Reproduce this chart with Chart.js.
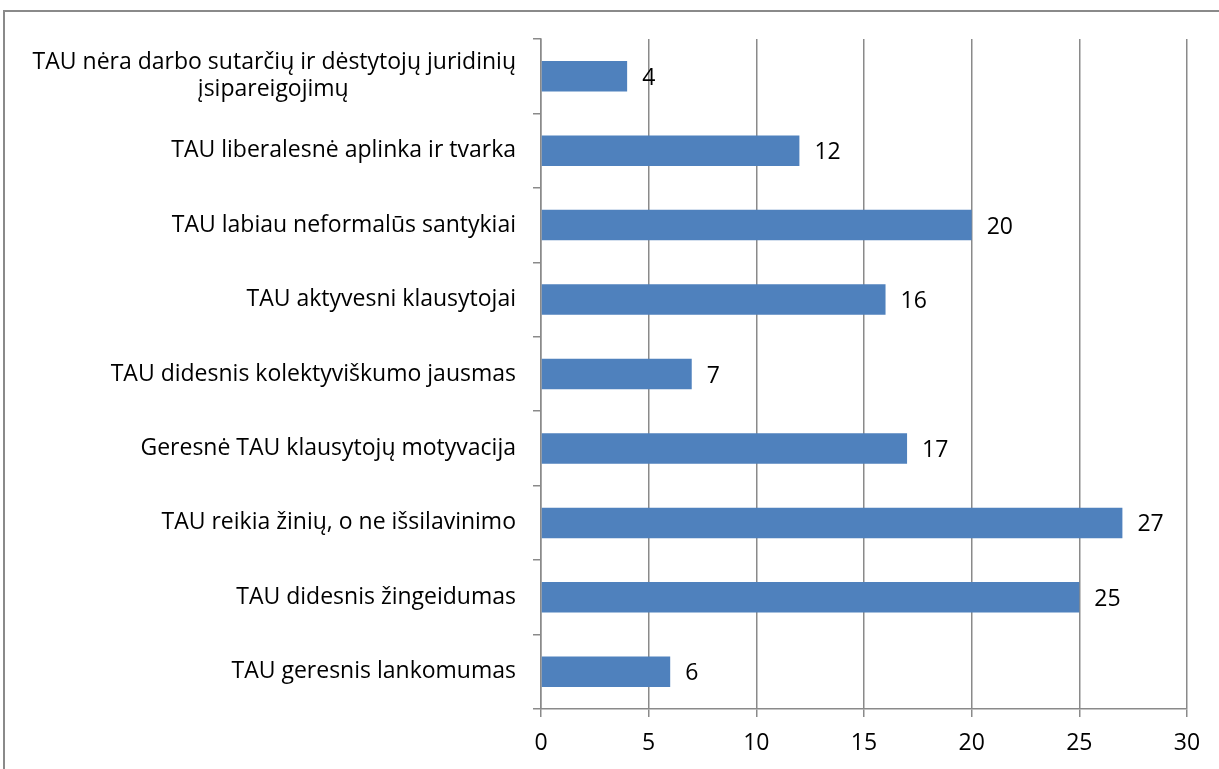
<!DOCTYPE html>
<html>
<head>
<meta charset="utf-8">
<script src="https://cdn.jsdelivr.net/npm/chart.js@4/dist/chart.umd.min.js"></script>
<style>
  html, body { margin: 0; padding: 0; background: #fff; overflow: hidden; }
  #wrap { position: relative; width: 1219px; height: 769px; }
  #frame { position: absolute; left: 3px; top: 10px; width: 1240px; height: 790px; border: 2px solid #8a8a8a; box-sizing: border-box; }
  canvas { position: absolute; left: 0; top: 0; }
</style>
</head>
<body>
<div id="wrap">
  <div id="frame"></div>
  <canvas id="myChart" width="1219" height="769"></canvas>
</div>
<script>
// categories top to bottom
var categories = [
    ['TAU nėra darbo sutarčių ir dėstytojų juridinių', 'įsipareigojimų'],
    'TAU liberalesnė aplinka ir tvarka',
    'TAU labiau neformalūs santykiai',
    'TAU aktyvesni klausytojai',
    'TAU didesnis kolektyviškumo jausmas',
    'Geresnė TAU klausytojų motyvacija',
    'TAU reikia žinių, o ne išsilavinimo',
    'TAU didesnis žingeidumas',
    'TAU geresnis lankomumas'
];
var values = [4, 12, 20, 16, 7, 17, 27, 25, 6];
var xTicks = [0, 5, 10, 15, 20, 25, 30];

var fontName = '"Open Sans", Lato, sans-serif';
var fontSize = 23;

// pad shorter lines of a wrapped label so they look centred under the first
var measureCtx = document.createElement('canvas').getContext('2d');
function centreLines(label) {
    if (!Array.isArray(label)) return label;
    measureCtx.font = fontSize + 'px ' + fontName;
    var widest = Math.max.apply(null, label.map(function (l) { return measureCtx.measureText(l).width; }));
    var sp = measureCtx.measureText('\u00a0').width;
    return label.map(function (l) {
        var n = Math.round((widest - measureCtx.measureText(l).width) / 2 / sp);
        return l + '\u00a0'.repeat(n);
    });
}

// value labels to the right of each bar
var valueLabels = {
    id: 'valueLabels',
    afterDatasetsDraw: function (chart) {
        var ctx = chart.ctx;
        var meta = chart.getDatasetMeta(0);
        ctx.save();
        ctx.font = fontSize + 'px ' + fontName;
        ctx.fillStyle = '#000';
        ctx.textAlign = 'left';
        ctx.textBaseline = 'middle';
        meta.data.forEach(function (bar, i) {
            ctx.fillText(values[i], bar.x + 15, bar.y + 2);
        });
        ctx.restore();
    }
};

var ctxChart = document.getElementById('myChart').getContext('2d');
var myChart = new Chart(ctxChart, {
    type: 'bar',
    data: {
        labels: categories,
        datasets: [{
            data: values,
            backgroundColor: '#4F81BD',
            borderWidth: 0,
            categoryPercentage: 1,
            barPercentage: 0.41
        }]
    },
    options: {
        indexAxis: 'y',
        responsive: false,
        animation: false,
        layout: { padding: { top: 39, right: 32, left: 0, bottom: 0 } },
        plugins: {
            legend: { display: false },
            tooltip: { enabled: false }
        },
        scales: {
            x: {
                min: 0,
                max: 30,
                afterBuildTicks: function (scale) {
                    scale.ticks = xTicks.map(function (v) { return { value: v }; });
                },
                grid: {
                    color: '#8a8a8a',
                    lineWidth: 1.5,
                    tickLength: 8
                },
                border: { color: '#8a8a8a', width: 1.5 },
                ticks: {
                    color: '#000',
                    padding: 13,
                    font: { family: fontName, size: fontSize }
                },
                afterFit: function (scale) { scale.height = 60; }
            },
            y: {
                offset: true,
                grid: {
                    offset: true,
                    drawOnChartArea: false,
                    color: '#8a8a8a',
                    lineWidth: 1.5,
                    tickLength: 8
                },
                border: { color: '#8a8a8a', width: 1.5 },
                ticks: {
                    color: '#000',
                    padding: 17,
                    autoSkip: false,
                    font: { family: fontName, size: fontSize, lineHeight: 1.18 },
                    callback: function (value, index) { return centreLines(categories[index]); }
                },
                afterFit: function (scale) { scale.width = 541; }
            }
        }
    },
    plugins: [valueLabels]
});
</script>
</body>
</html>
